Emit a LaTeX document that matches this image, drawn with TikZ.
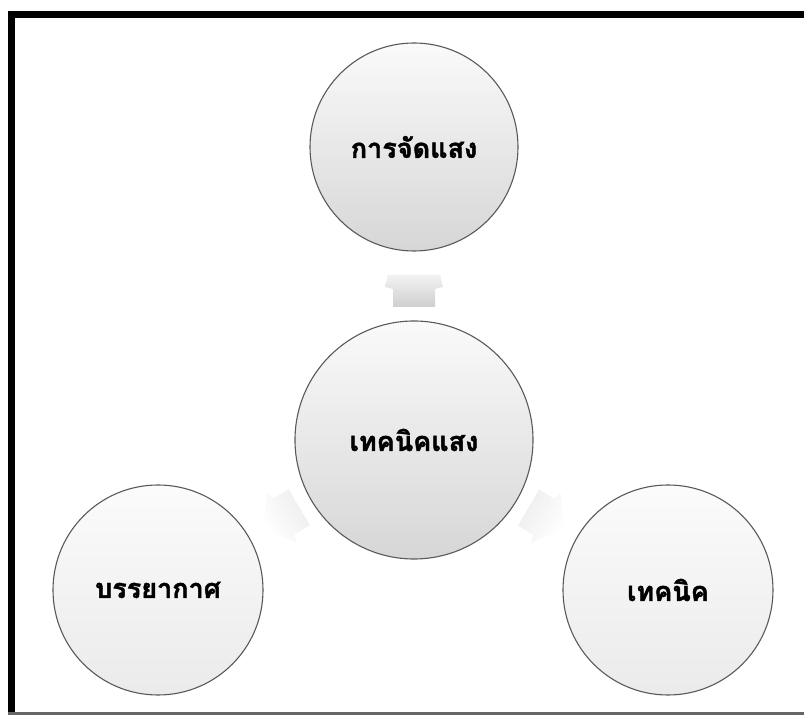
\documentclass[tikz,border=0pt]{standalone}
\usepackage{fontspec}
\newfontfamily\thaifont[Script=Thai,BoldFeatures={FakeBold=1.6}]{Loma}
\begin{document}
\begin{tikzpicture}[x=1pt,y=1pt,
  bubble/.style={circle, draw=black!65, line width=1.1pt, minimum size=#1, inner sep=0pt,
    font=\thaifont\bfseries\fontsize{27}{32}\selectfont, text=black},
  darkfill/.style={top color=gray!4, bottom color=gray!32},
  lightfill/.style={top color=gray!3, bottom color=gray!16},
  frame/.style={line width=7pt, black}]
\useasboundingbox (0,0) rectangle (804,715);
% frame
\draw[frame] (11,0) -- (11,700.5);
\draw[frame] (7.5,700.5) -- (804,700.5);
\draw[line width=3pt, black!60] (8,1.5) -- (804,1.5);
% circles
\node[bubble=208pt, darkfill] (t) at (414,568) {การจัดแสง};
\node[bubble=238pt, darkfill] (c) at (414,275) {เทคนิคแสง};
\node[bubble=210pt, lightfill] (l) at (158,125) {บรรยากาศ};
\node[bubble=210pt, lightfill] (r) at (668,125) {เทคนิค};
% radial arrows
\begin{scope}[shift={(c.center)}]
  \shade[top color=gray!10, bottom color=gray!38, shading angle=0]
    (-21,133) -- (21,133) -- (21,151) -- (29,153) -- (26,165) -- (-26,165) -- (-29,153) -- (-21,151) -- cycle;
\end{scope}
\begin{scope}[shift={(c.center)}, rotate=120.4]
  \shade[top color=white, bottom color=gray!20, shading angle=120.4, opacity=0.7]
    (-21,133) -- (21,133) -- (21,151) -- (29,153) -- (0,175) -- (-29,153) -- (-21,151) -- cycle;
\end{scope}
\begin{scope}[shift={(c.center)}, rotate=239.4]
  \shade[top color=white, bottom color=gray!20, shading angle=239.4, opacity=0.7]
    (-21,133) -- (21,133) -- (21,151) -- (29,153) -- (0,175) -- (-29,153) -- (-21,151) -- cycle;
\end{scope}
\end{tikzpicture}
\end{document}
